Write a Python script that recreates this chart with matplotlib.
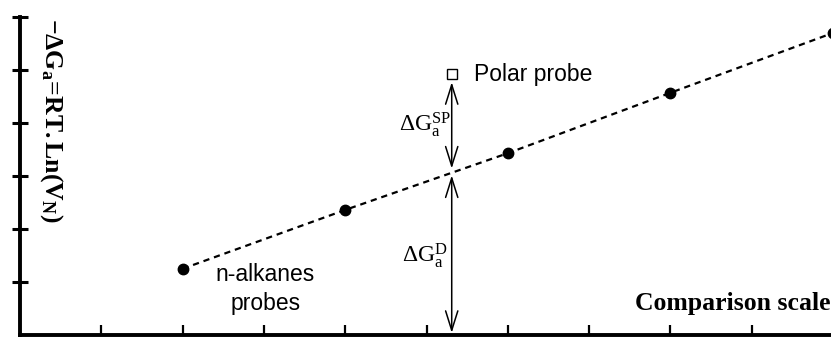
import matplotlib
matplotlib.use('Agg')
import matplotlib.pyplot as plt
import numpy as np

plt.rcParams['mathtext.fontset'] = 'custom'
plt.rcParams['mathtext.rm'] = 'Liberation Serif'
plt.rcParams['mathtext.it'] = 'Liberation Serif:italic'
plt.rcParams['mathtext.bf'] = 'Liberation Serif:bold'

# n-alkane probes on the comparison scale
alkane_x = [2, 4, 6, 8, 10]
alkane_y = [1.25, 2.36, 3.43, 4.57, 5.70]

# polar probe
polar_x = 5.31
polar_y = 4.92

x_ticks = [1, 2, 3, 4, 5, 6, 7, 8, 9]
y_ticks = [1, 2, 3, 4, 5, 6]

fig = plt.figure(figsize=(8.31, 3.38), dpi=100)
ax = fig.add_axes([20 / 831, 3 / 338, 1 - 20 / 831, 318 / 338])
ax.set_xlim(0, 9.975)
ax.set_ylim(0, 6)

for s in ['top', 'right']:
    ax.spines[s].set_visible(False)
for s in ['left', 'bottom']:
    ax.spines[s].set_linewidth(2.8)

ax.set_xticks(x_ticks)
ax.set_yticks(y_ticks)
ax.set_xticklabels([])
ax.set_yticklabels([])
ax.tick_params(axis='x', direction='in', length=7, width=1.6)
ax.tick_params(axis='y', direction='inout', length=11, width=2.2)

# dashed reference line of the alkanes
ax.plot(alkane_x, alkane_y, ls=(0, (2.8, 2.2)), color='black', lw=1.6, zorder=2)
ax.plot(alkane_x, alkane_y, 'o', color='black', ms=7.5, zorder=3)

# polar probe
ax.plot([polar_x], [polar_y], 's', mfc='white', mec='black', ms=6.5, mew=1.0, zorder=3)

line_y = np.interp(polar_x, alkane_x, alkane_y)

arrow = dict(arrowstyle='<->,head_length=0.7,head_width=0.22', color='black',
             lw=1.1, shrinkA=0, shrinkB=0, mutation_scale=20)
ax.annotate('', xy=(polar_x, line_y + 0.08), xytext=(polar_x, polar_y - 0.15),
            arrowprops=arrow)
ax.annotate('', xy=(polar_x, 0.04), xytext=(polar_x, line_y - 0.05),
            arrowprops=arrow)

ax.text(polar_x - 0.33, 3.96, r'$\Delta\mathrm{G}_\mathrm{a}^\mathrm{SP}$',
        fontsize=17, ha='center', va='center')
ax.text(polar_x - 0.33, 1.49, r'$\Delta\mathrm{G}_\mathrm{a}^\mathrm{D}$',
        fontsize=17, ha='center', va='center')

ax.text(polar_x + 0.27, polar_y, 'Polar probe', family='Liberation Sans',
        fontsize=16.5, ha='left', va='center')
ax.text(3.02, 0.87, 'n-alkanes\nprobes', family='Liberation Sans',
        fontsize=16.5, ha='center', va='center', linespacing=1.3)

ax.text(9.97, 0.6, 'Comparison scale', family='Liberation Serif',
        fontweight='bold', fontsize=18.5, ha='right', va='center')

fig.text(51 / 831, 1 - 18 / 338, r'$\mathbf{-\Delta G_a\!=\!RT.Ln(V_N)}$',
         rotation=-90, fontsize=18.5, ha='center', va='top')

fig.savefig('out.png', dpi=100)
